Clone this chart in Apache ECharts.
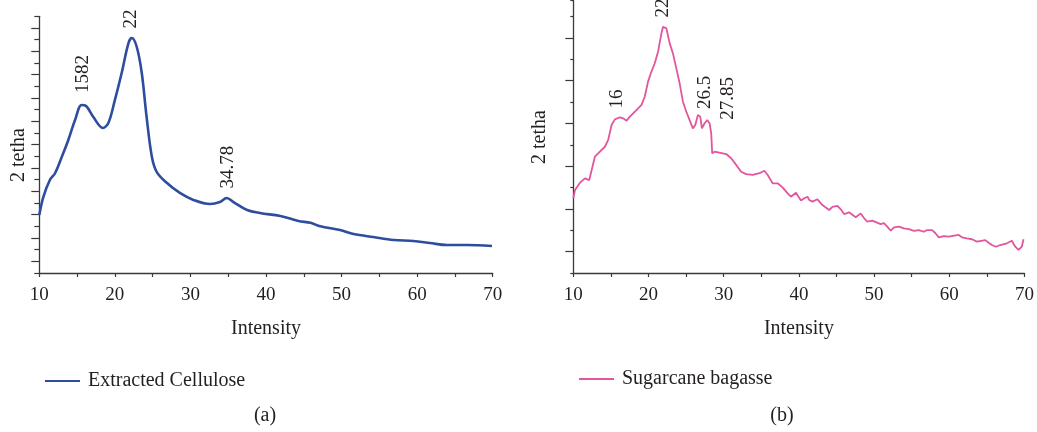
<!DOCTYPE html>
<html>
<head>
<meta charset="utf-8">
<script src="https://cdn.jsdelivr.net/npm/echarts@6/dist/echarts.min.js"></script>
<style>
html,body{margin:0;padding:0;background:#fff;}
#c{width:1037px;height:432px;}
</style>
</head>
<body>
<div id="c"></div>
<script>
// ---- data ----
var cellX = [10, 10.53, 11.4, 12.1, 12.97, 13.84, 14.73, 15.6, 16.2, 17.15, 18.4, 19.14, 20.0, 20.9, 21.8, 22.24, 22.9, 23.56, 24.2, 24.9, 25.55, 26.9, 28.6, 30.4, 32.6, 33.9, 34.8, 35.7, 37.5, 39.2, 41.9, 44.3, 45.9, 47.2, 49.8, 51.6, 54.2, 56.9, 59.5, 61.7, 63.96, 66.6, 69.9];
var cellY = [4.97, 6.51, 7.97, 8.57, 9.94, 11.40, 13.11, 14.40, 14.31, 13.37, 12.43, 12.85, 14.82, 17.14, 19.71, 20.14, 19.37, 17.14, 13.37, 9.94, 8.65, 7.71, 6.86, 6.26, 5.91, 6.08, 6.43, 6.08, 5.40, 5.14, 4.88, 4.46, 4.30, 4.00, 3.68, 3.34, 3.08, 2.83, 2.74, 2.57, 2.40, 2.40, 2.31];

var bagX = [10.00, 10.23, 10.89, 11.55, 12.12, 12.88, 13.54, 14.20, 14.64, 15.09, 15.53, 16.19, 16.63, 17.08, 17.52, 18.40, 19.07, 19.50, 19.94, 20.39, 20.83, 21.27, 21.72, 21.93, 22.38, 22.82, 23.25, 23.70, 24.14, 24.58, 25.03, 25.47, 25.90, 26.22, 26.57, 26.88, 27.10, 27.46, 27.81, 28.12, 28.34, 28.47, 28.78, 29.44, 30.33, 30.99, 31.66, 32.32, 32.98, 33.86, 34.75, 35.41, 35.85, 36.51, 37.17, 37.83, 38.50, 38.95, 39.61, 40.27, 40.71, 41.15, 41.37, 41.81, 42.47, 43.13, 44.02, 44.46, 45.12, 45.57, 46.01, 46.67, 47.56, 48.22, 48.66, 49.10, 49.76, 50.87, 51.31, 51.75, 52.20, 52.64, 53.30, 53.96, 54.63, 55.29, 55.95, 56.61, 57.05, 57.71, 58.16, 58.60, 59.26, 59.93, 61.25, 61.69, 62.35, 63.02, 63.68, 64.79, 65.23, 65.67, 66.20, 66.78, 67.66, 68.32, 68.77, 69.21, 69.64, 69.87];
var bagY = [3.50, 3.89, 4.23, 4.43, 4.35, 5.45, 5.68, 5.91, 6.23, 6.93, 7.19, 7.29, 7.24, 7.13, 7.32, 7.63, 7.87, 8.25, 8.96, 9.43, 9.82, 10.36, 11.22, 11.53, 11.45, 10.75, 10.28, 9.58, 8.88, 8.02, 7.55, 7.16, 6.77, 6.93, 7.40, 7.32, 6.77, 7.01, 7.16, 7.01, 6.54, 5.60, 5.68, 5.63, 5.57, 5.37, 5.06, 4.74, 4.63, 4.59, 4.67, 4.79, 4.59, 4.20, 4.20, 4.01, 3.73, 3.57, 3.76, 3.39, 3.50, 3.57, 3.42, 3.34, 3.45, 3.18, 2.95, 3.10, 3.14, 2.98, 2.76, 2.84, 2.61, 2.79, 2.57, 2.40, 2.45, 2.29, 2.33, 2.17, 1.98, 2.14, 2.17, 2.09, 2.05, 1.97, 2.01, 1.93, 2.01, 2.01, 1.86, 1.67, 1.73, 1.70, 1.78, 1.67, 1.62, 1.58, 1.47, 1.54, 1.42, 1.31, 1.23, 1.31, 1.39, 1.51, 1.23, 1.08, 1.23, 1.58];

var cellPeakText = ['1582', '22', '34.78'];
var cellPeakX = [15.72, 22.08, 34.99];
var cellPeakY = [17.05, 21.77, 9.08];

var bagPeakText = ['16', '22', '26.5', '27.85'];
var bagPeakX = [15.79, 21.89, 27.52, 30.64];
var bagPeakY = [8.15, 12.41, 8.45, 8.17];

var seriesNames = ['Extracted Cellulose', 'Sugarcane bagasse'];
var xName = 'Intensity';
var yName = '2 tetha';
var panelNames = ['(a)', '(b)'];

// ---- styling ----
var FONT = '"Liberation Serif", "DejaVu Serif", serif';
var TXT = '#231f20';
var AX = '#3a3a3a';
var BLUE = '#2f4d9e';
var PINK = '#e3559c';

function zip(xs, ys) { return xs.map(function (x, i) { return [x, ys[i]]; }); }
function peaks(t, xs, ys) {
  return t.map(function (s, i) { return { name: s, coord: [xs[i], ys[i]] }; });
}

function xAxisCfg(idx) {
  return {
    type: 'value', gridIndex: idx, min: 10, max: 70, interval: 10,
    name: xName, nameLocation: 'middle', nameGap: 46,
    nameTextStyle: { fontFamily: FONT, fontSize: 20, color: TXT },
    axisLine: { lineStyle: { color: AX, width: 1.3 } },
    axisTick: { show: true, length: 4, lineStyle: { color: AX, width: 1.2 } },
    minorTick: { show: true, splitNumber: 2, length: 4, lineStyle: { color: AX, width: 1.2 } },
    splitLine: { show: false },
    axisLabel: { fontFamily: FONT, fontSize: 19, color: TXT, margin: 13 }
  };
}
function yAxisCfg(idx, max, shortLen) {
  return {
    type: 'value', gridIndex: idx, min: 0, max: max, interval: 2,
    axisLine: { show: true, lineStyle: { color: AX, width: 1.3 } },
    axisTick: { show: true, length: shortLen, lineStyle: { color: AX, width: 1.2 } },
    minorTick: { show: true, splitNumber: 2, length: 8, lineStyle: { color: AX, width: 1.2 } },
    splitLine: { show: false },
    minorSplitLine: { show: false },
    axisLabel: { show: false }
  };
}
var peakLabel = {
  show: true, position: 'inside', rotate: 90,
  fontFamily: FONT, fontSize: 19, color: TXT,
  formatter: function (p) { return p.name; }
};

var chart = echarts.init(document.getElementById('c'), null, { renderer: 'canvas' });
chart.setOption({
  backgroundColor: '#fff',
  animation: false,
  grid: [
    { left: 39.3, top: 16.3, width: 453.4, height: 256.7 },
    { left: 573.3, top: 0, width: 452.7, height: 273 }
  ],
  xAxis: [xAxisCfg(0), xAxisCfg(1)],
  yAxis: [yAxisCfg(0, 22, 5), yAxisCfg(1, 12.78, 3)],
  legend: [
    {
      data: [{ name: seriesNames[0], icon: 'rect' }],
      left: 40, top: 366, itemWidth: 35, itemHeight: 2,
      textStyle: { fontFamily: FONT, fontSize: 20, color: TXT, padding: [0, 0, 0, 3] }
    },
    {
      data: [{ name: seriesNames[1], icon: 'rect' }],
      left: 574, top: 364, itemWidth: 35, itemHeight: 2,
      textStyle: { fontFamily: FONT, fontSize: 20, color: TXT, padding: [0, 0, 0, 3] }
    }
  ],
  graphic: [
    { type: 'text', x: 18.5, y: 155, rotation: Math.PI / 2,
      style: { text: yName, font: '20px ' + FONT, fill: TXT, align: 'center', verticalAlign: 'middle' } },
    { type: 'text', x: 539.5, y: 137, rotation: Math.PI / 2,
      style: { text: yName, font: '20px ' + FONT, fill: TXT, align: 'center', verticalAlign: 'middle' } },
    { type: 'text', x: 265, y: 416, style: { text: panelNames[0], font: '20px ' + FONT, fill: TXT, align: 'center', verticalAlign: 'middle' } },
    { type: 'text', x: 782, y: 416, style: { text: panelNames[1], font: '20px ' + FONT, fill: TXT, align: 'center', verticalAlign: 'middle' } }
  ],
  series: [
    {
      name: seriesNames[0], type: 'line', xAxisIndex: 0, yAxisIndex: 0,
      data: zip(cellX, cellY), smooth: 0.35, showSymbol: false, symbol: 'none',
      lineStyle: { color: BLUE, width: 2.6 }, itemStyle: { color: BLUE },
      markPoint: { symbol: 'circle', symbolSize: 1, itemStyle: { color: 'rgba(0,0,0,0)' },
        label: peakLabel, data: peaks(cellPeakText, cellPeakX, cellPeakY) }
    },
    {
      name: seriesNames[1], type: 'line', xAxisIndex: 1, yAxisIndex: 1,
      data: zip(bagX, bagY), smooth: false, showSymbol: false, symbol: 'none',
      lineStyle: { color: PINK, width: 1.8 }, itemStyle: { color: PINK },
      markPoint: { symbol: 'circle', symbolSize: 1, itemStyle: { color: 'rgba(0,0,0,0)' },
        label: peakLabel, data: peaks(bagPeakText, bagPeakX, bagPeakY) }
    }
  ]
});
</script>
</body>
</html>
